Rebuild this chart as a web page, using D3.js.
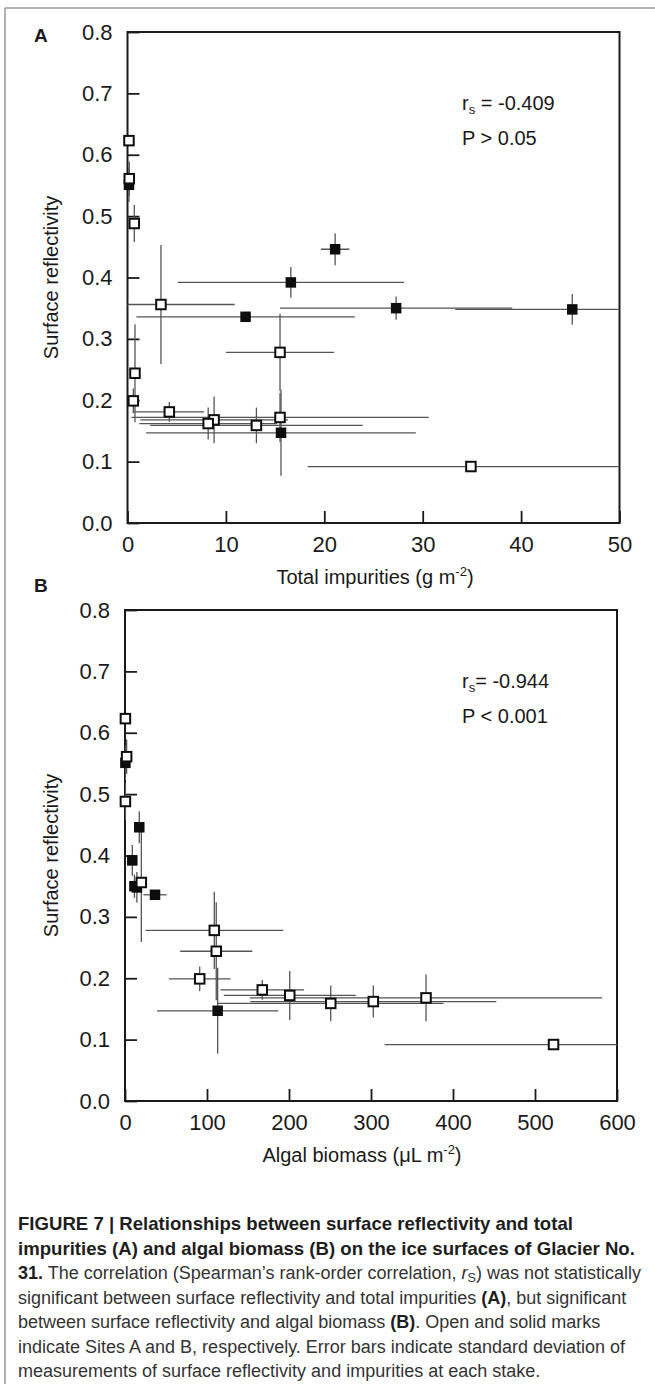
<!DOCTYPE html>
<html>
<head>
<meta charset="utf-8">
<script src="https://cdn.jsdelivr.net/npm/d3@7"></script>
<style>
  body { margin: 0; background: #fff; }
  svg { display: block; font-family: "Liberation Sans", Arial, Helvetica, sans-serif; }
</style>
</head>
<body>
<svg id="fig" width="655" height="1384"></svg>
<script>
/* global d3 */

// Site A stakes (open marks): reflectivity and its SD, shared by both panels
var reflSiteA    = [0.623, 0.561, 0.488, 0.356, 0.278, 0.244, 0.199, 0.181, 0.172, 0.168, 0.162, 0.159, 0.092];
var reflErrSiteA = [0.004, 0.028, 0.030, 0.097, 0.063, 0.080, 0.020, 0.016, 0.040, 0.038, 0.026, 0.029, 0.005];
var impSiteA     = [0.15, 0.18, 0.69, 3.4, 15.5, 0.76, 0.59, 4.25, 15.5, 8.8, 8.2, 13.1, 34.9];
var impErrSiteA  = [0.1, 0.1, 0.5, 7.5, 5.5, 0.3, 0.3, 3.55, 15.1, 7.5, 7.0, 10.8, 16.6];
var bioSiteA     = [0.5, 2, 0.5, 19.9, 108.9, 111.3, 91.1, 167.4, 200.9, 367.1, 302.8, 250.9, 522.6];
var bioErrSiteA  = [0, 0, 0, 2, 84, 44, 37.6, 51, 80.5, 214.7, 150, 137.5, 206];

// Site B stakes (solid marks)
var reflSiteB    = [0.551, 0.446, 0.392, 0.350, 0.348, 0.336, 0.147];
var reflErrSiteB = [0.028, 0.026, 0.025, 0.019, 0.025, 0.006, 0.070];
var impSiteB     = [0.15, 21.1, 16.6, 27.3, 45.2, 12.0, 15.6];
var impErrSiteB  = [0.1, 1.45, 11.5, 11.8, 11.9, 11.1, 13.7];
var bioSiteB     = [0.5, 17.4, 8.9, 11.5, 14.5, 36.6, 113];
var bioErrSiteB  = [0.5, 2, 2, 2, 2, 14.2, 74];

// Axes
var reflTicks = [0, 0.1, 0.2, 0.3, 0.4, 0.5, 0.6, 0.7, 0.8];
var impTicks  = [0, 10, 20, 30, 40, 50];
var bioTicks  = [0, 100, 200, 300, 400, 500, 600];

var svg = d3.select('#fig');
var ink = '#1a1a1a';

//Page frame
svg.append('line').attr('x1', 5).attr('x2', 655).attr('y1', 8).attr('y2', 8)
  .attr('stroke', '#9a9a9a').attr('stroke-width', 1.5);
svg.append('line').attr('x1', 5).attr('x2', 5).attr('y1', 8).attr('y2', 1384)
  .attr('stroke', '#9a9a9a').attr('stroke-width', 1.5);

function zip(xs, xe, ys, ye){
  return xs.map(function(v, i){ return { x: v, xe: xe[i], y: ys[i], ye: ye[i] }; });
}

function drawPanel(cfg){
  var x = d3.scaleLinear().domain(cfg.xDomain).range([cfg.left, cfg.right]);
  var y = d3.scaleLinear().domain([0, 0.8]).range([cfg.bottom, cfg.top]);
  var g = svg.append('g');

  var clipId = 'clip_' + cfg.id;
  svg.append('clipPath').attr('id', clipId).append('rect')
    .attr('x', cfg.left).attr('y', cfg.top)
    .attr('width', cfg.right - cfg.left).attr('height', cfg.bottom - cfg.top);

  //Axes (inward ticks)
  var yAxis = d3.axisLeft(y).tickValues(reflTicks).tickFormat(d3.format('.1f'))
    .tickSizeInner(-12).tickSizeOuter(0).tickPadding(15);
  var gy = g.append('g').attr('transform', 'translate(' + cfg.left + ',0)').call(yAxis);
  var xAxis = d3.axisBottom(x).tickValues(cfg.xTicks).tickFormat(d3.format('d'))
    .tickSizeInner(-12).tickSizeOuter(0).tickPadding(13.5);
  var gx = g.append('g').attr('transform', 'translate(0,' + cfg.bottom + ')').call(xAxis);
  [gx, gy].forEach(function(ax){
    ax.select('.domain').remove();
    ax.selectAll('.tick line').attr('stroke', ink).attr('stroke-width', 1.8);
    ax.selectAll('.tick text').attr('fill', ink).style('font-size', '22px')
      .style('font-family', '"Liberation Sans", Arial, sans-serif');
  });

  //Frame
  g.append('rect').attr('x', cfg.left).attr('y', cfg.top)
    .attr('width', cfg.right - cfg.left).attr('height', cfg.bottom - cfg.top)
    .attr('fill', 'none').attr('stroke', ink).attr('stroke-width', 2);

  //Error bars
  var bars = g.append('g').attr('clip-path', 'url(#' + clipId + ')')
    .attr('stroke', '#555').attr('stroke-width', 1.3);
  var all = cfg.solid.concat(cfg.open);
  bars.selectAll('line.h').data(all).enter().append('line').attr('class', 'h')
    .attr('x1', function(d){ return x(d.x - d.xe); })
    .attr('x2', function(d){ return x(d.x + d.xe); })
    .attr('y1', function(d){ return y(d.y); })
    .attr('y2', function(d){ return y(d.y); });
  bars.selectAll('line.v').data(all).enter().append('line').attr('class', 'v')
    .attr('x1', function(d){ return x(d.x); })
    .attr('x2', function(d){ return x(d.x); })
    .attr('y1', function(d){ return y(d.y - d.ye); })
    .attr('y2', function(d){ return y(d.y + d.ye); });

  //Marks: solid (Site B) then open (Site A) on top
  var s1 = 10.5;
  g.selectAll('rect.solid').data(cfg.solid).enter().append('rect').attr('class', 'solid')
    .attr('x', function(d){ return x(d.x) - s1 / 2; })
    .attr('y', function(d){ return y(d.y) - s1 / 2; })
    .attr('width', s1).attr('height', s1).attr('fill', '#0d0d0d');
  var s2 = 9.5;
  g.selectAll('rect.open').data(cfg.open).enter().append('rect').attr('class', 'open')
    .attr('x', function(d){ return x(d.x) - s2 / 2; })
    .attr('y', function(d){ return y(d.y) - s2 / 2; })
    .attr('width', s2).attr('height', s2)
    .attr('fill', '#fff').attr('stroke', '#0d0d0d').attr('stroke-width', 2);

  //Panel letter
  g.append('text').attr('x', 34).attr('y', cfg.letterY).text(cfg.letter)
    .attr('fill', ink).style('font-size', '19px').style('font-weight', 'bold');

  //Y title
  g.append('text').attr('transform', 'translate(58,' + ((cfg.top + cfg.bottom) / 2) + ') rotate(-90)')
    .attr('text-anchor', 'middle').attr('fill', ink).style('font-size', '20px')
    .text('Surface reflectivity');

  //X title with superscript
  var xt = g.append('text').attr('x', cfg.xTitleX).attr('y', cfg.bottom + 61)
    .attr('text-anchor', 'middle').attr('fill', ink).style('font-size', '20px');
  xt.append('tspan').text(cfg.xTitle);
  xt.append('tspan').attr('dy', -8).style('font-size', '13px').text('-2');
  xt.append('tspan').attr('dy', 8).text(')');

  //Statistics
  var t1 = g.append('text').attr('x', 462).attr('y', cfg.top + 78).attr('fill', ink).style('font-size', '20px');
  t1.append('tspan').text('r');
  t1.append('tspan').attr('dy', 4).style('font-size', '13px').text('s');
  t1.append('tspan').attr('dy', -4).text(cfg.rs);
  g.append('text').attr('x', 462).attr('y', cfg.top + 113).attr('fill', ink).style('font-size', '20px')
    .text(cfg.p);
}

drawPanel({
  id: 'A', letter: 'A', letterY: 42,
  left: 127.5, right: 619.5, top: 32, bottom: 523,
  xDomain: [0, 50], xTicks: impTicks,
  xTitle: 'Total impurities (g m', xTitleX: 375,
  rs: ' = -0.409', p: 'P > 0.05',
  open: zip(impSiteA, impErrSiteA, reflSiteA, reflErrSiteA),
  solid: zip(impSiteB, impErrSiteB, reflSiteB, reflErrSiteB)
});

drawPanel({
  id: 'B', letter: 'B', letterY: 592,
  left: 125, right: 617, top: 610, bottom: 1101,
  xDomain: [0, 600], xTicks: bioTicks,
  xTitle: 'Algal biomass (\u03bcL m', xTitleX: 362,
  rs: '= -0.944', p: 'P < 0.001',
  open: zip(bioSiteA, bioErrSiteA, reflSiteA, reflErrSiteA),
  solid: zip(bioSiteB, bioErrSiteB, reflSiteB, reflErrSiteB)
});

//Caption
var cap = svg.append('g').style('font-size', '18px');
var capLines = [
  [['B', 'FIGURE 7 | Relationships between surface reflectivity and total']],
  [['B', 'impurities (A) and algal biomass (B) on the ice surfaces of Glacier No.']],
  [['b', '31.'], ['n', ' The correlation (Spearman\u2019s rank-order correlation, '], ['i', 'r'], ['sub', 'S'], ['n', ') was not statistically']],
  [['n', 'significant between surface reflectivity and total impurities '], ['b', '(A)'], ['n', ', but significant']],
  [['n', 'between surface reflectivity and algal biomass '], ['b', '(B)'], ['n', '. Open and solid marks']],
  [['n', 'indicate Sites A and B, respectively. Error bars indicate standard deviation of']],
  [['n', 'measurements of surface reflectivity and impurities at each stake.']]
];
capLines.forEach(function(parts, i){
  var t = cap.append('text').attr('x', 18).attr('y', 1230 + i * 24.5).attr('fill', '#333');
  var shifted = false;
  parts.forEach(function(p){
    var ts = t.append('tspan').text(p[1]);
    if (shifted) { ts.attr('dy', -3); shifted = false; }
    if (p[0] === 'b' || p[0] === 'B') ts.style('font-weight', 'bold').attr('fill', '#1e1e1e');
    if (p[0] === 'B') ts.style('font-size', '18.6px');
    if (p[0] === 'i') ts.style('font-style', 'italic');
    if (p[0] === 'sub') { ts.attr('dy', 3).style('font-size', '12.5px'); shifted = true; }
  });
});
</script>
</body>
</html>
